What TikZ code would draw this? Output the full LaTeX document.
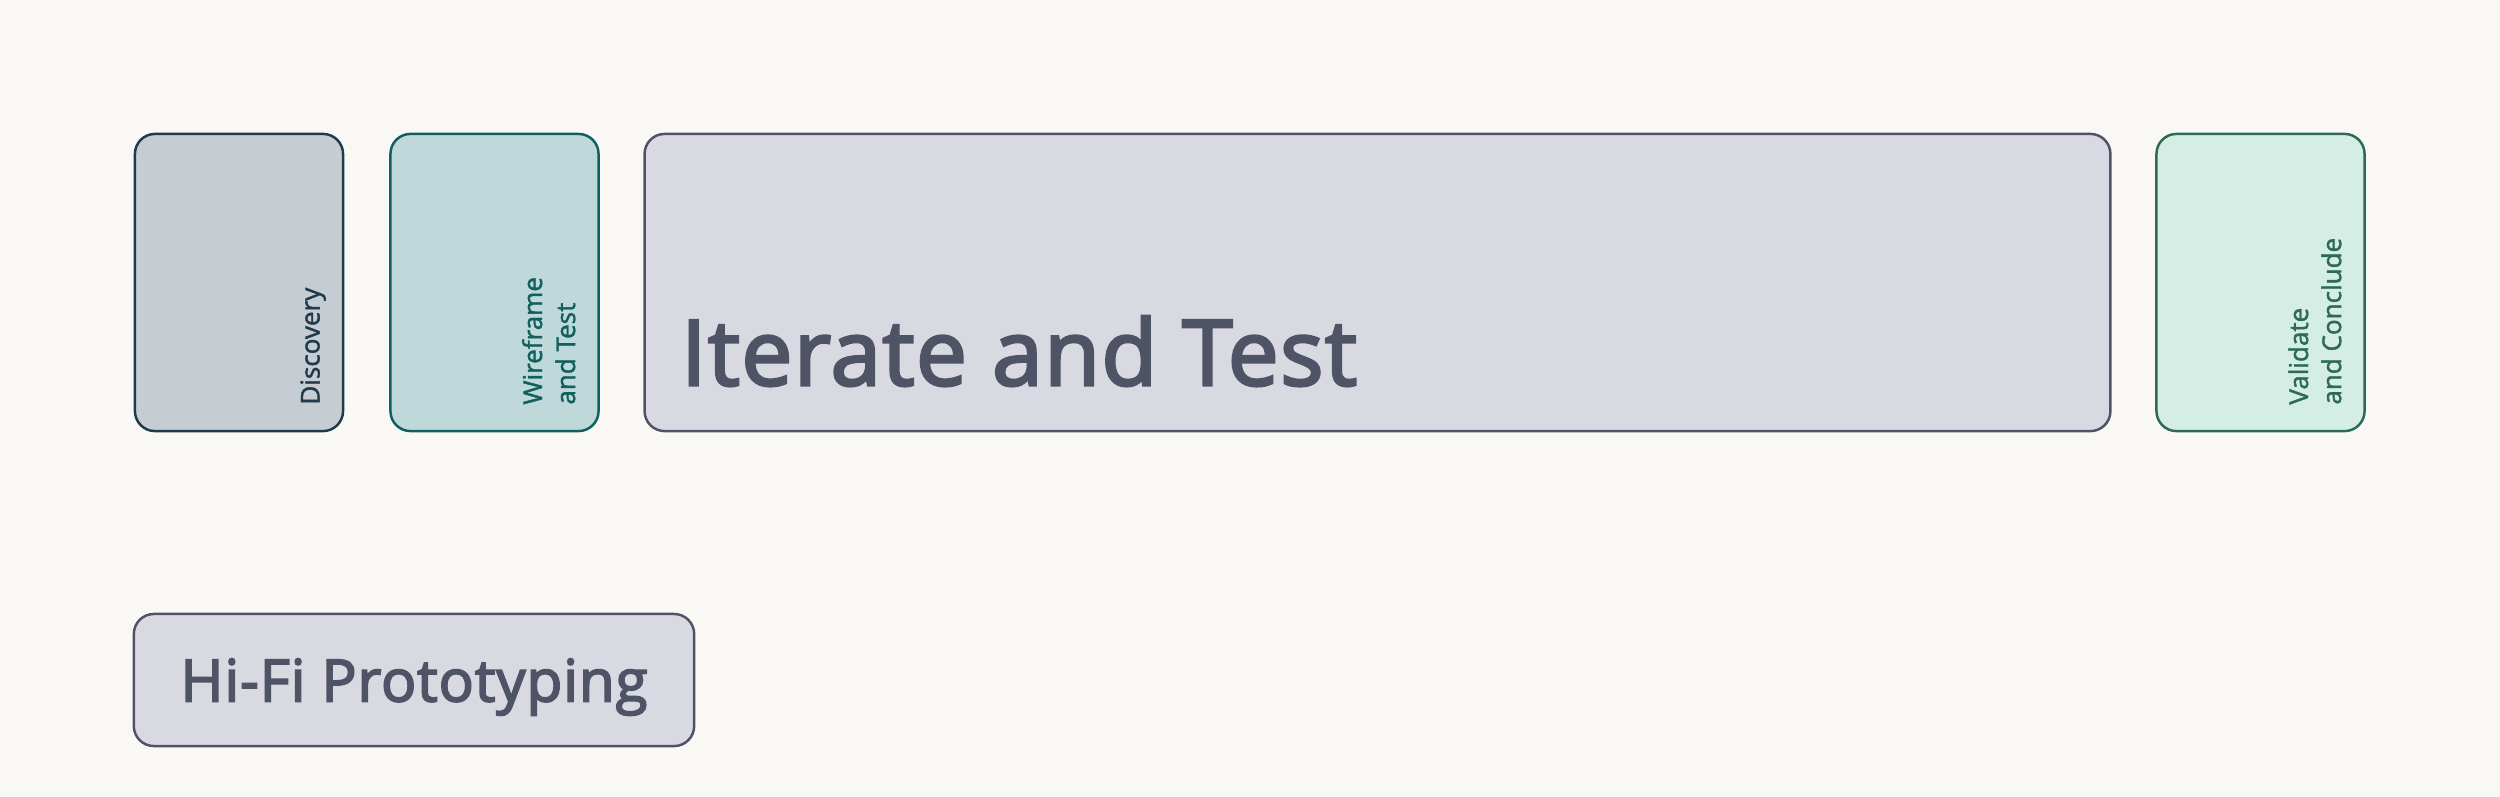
\documentclass[tikz,border=0pt]{standalone}
\usepackage{fontspec}
\setmainfont{Open Sans}
\newfontfamily\semifont[FakeBold=3, LetterSpace=1.5]{Open Sans}
\newfontfamily\sidefont[FakeBold=1.5]{Open Sans}

\definecolor{paper}{HTML}{F9F8F4}
\definecolor{disc fill}{HTML}{C5CDD3}
\definecolor{disc line}{HTML}{1F3A4A}
\definecolor{wire fill}{HTML}{BFD8D9}
\definecolor{wire line}{HTML}{115F5E}
\definecolor{iter fill}{HTML}{D9D9E1}
\definecolor{iter line}{HTML}{4F5366}
\definecolor{valid fill}{HTML}{D4EEE6}
\definecolor{valid line}{HTML}{2D6A55}

\tikzset{
  phase/.style={draw, line width=0.7pt, rounded corners=0.2cm,
    minimum width=2.08cm, minimum height=2.97cm, inner sep=0pt},
  sidelabel/.style={rotate=90, anchor=south west, align=left,
    inner sep=0pt, text depth=0pt, font=\sidefont\fontsize{7.4}{9.4}\selectfont},
}

\begin{document}
\begin{tikzpicture}[x=0.01cm, y=-0.01cm]%
  \fill[paper] (0,0) rectangle (2500,796);%  % page background
  % narrow phases with their upright labels
  \foreach \cx/\name/\label in {%
      239/disc/Discovery,%
      494.5/wire/{Wireframe\\and Test},%
      2260.5/valid/{Validate\\and Conclude}%
    } {%
      \node[phase, fill=\name\space fill, draw=\name\space line] (\name) at (\cx,282.5) {};%
      \node[sidelabel, text=\name\space line] (\name-text)%
        at ([xshift=-0.24cm, yshift=0.27cm]\name.south east) {\label};%
    };%
  % the long phase
  \node[phase, minimum width=14.65cm, fill=iter fill, draw=iter line] (iter) at (1377.5,282.5) {};%
  \node[anchor=base west, inner sep=0pt, text=iter line, font=\semifont\fontsize{25.9}{30}\selectfont]%
    (iter-text) at ([xshift=0.37cm, yshift=0.47cm]iter.south west) {Iterate and Test};%
  % below the row
  \node[phase, minimum width=5.6cm, minimum height=1.32cm, fill=iter fill, draw=iter line,%
    text=iter line, text depth=0pt, font=\semifont\fontsize{16.6}{20}\selectfont] (hifi) at (414,680) {Hi-Fi Prototyping};%
\end{tikzpicture}
\end{document}
